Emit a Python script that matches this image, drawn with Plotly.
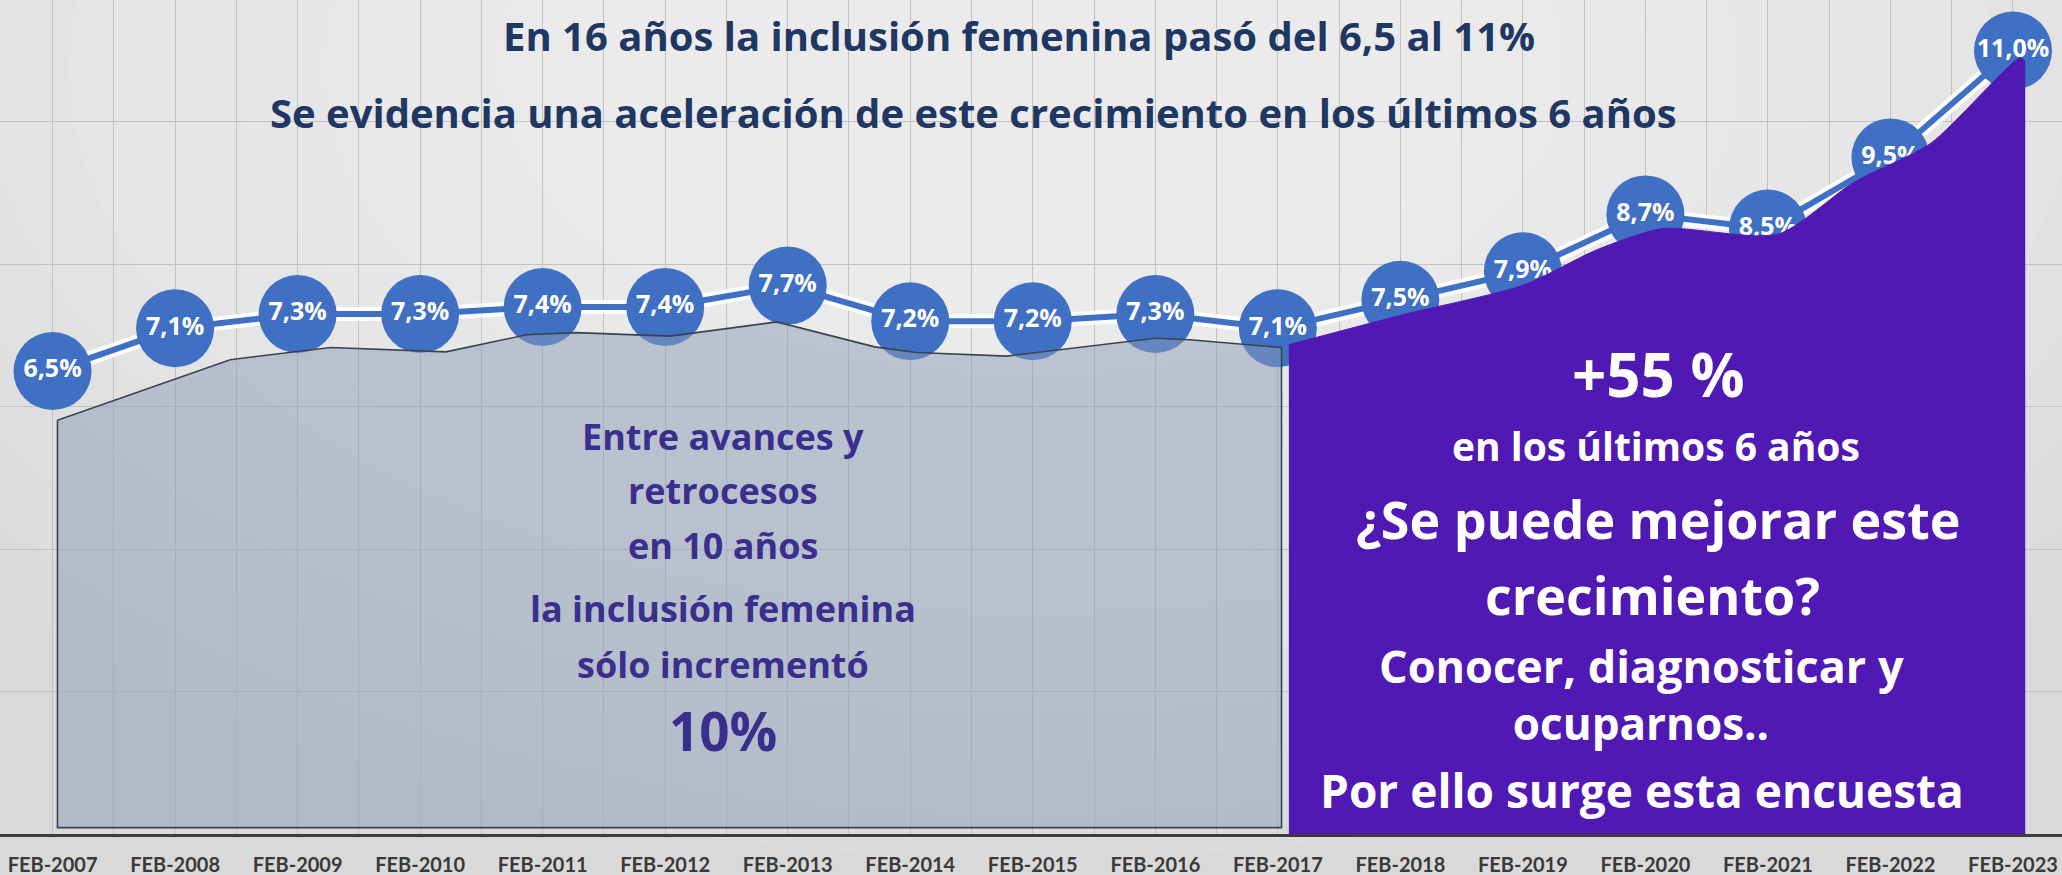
import plotly.graph_objects as go

# ---------------- data ----------------
years = ["FEB-2007", "FEB-2008", "FEB-2009", "FEB-2010", "FEB-2011", "FEB-2012",
         "FEB-2013", "FEB-2014", "FEB-2015", "FEB-2016", "FEB-2017", "FEB-2018",
         "FEB-2019", "FEB-2020", "FEB-2021", "FEB-2022", "FEB-2023"]
idx = list(range(len(years)))
values = [6.5, 7.1, 7.3, 7.3, 7.4, 7.4, 7.7, 7.2, 7.2, 7.3, 7.1, 7.5, 7.9, 8.7, 8.5, 9.5, 11.0]
labels = ["6,5%", "7,1%", "7,3%", "7,3%", "7,4%", "7,4%", "7,7%", "7,2%", "7,2%", "7,3%",
          "7,1%", "7,5%", "7,9%", "8,7%", "8,5%", "9,5%", "11,0%"]

# grey band (first 10 years) – outline
band_x = [0.04, 1.45, 2.27, 3.21, 3.87, 4.27, 5.04, 5.91, 6.71, 7.05, 7.79, 8.67, 9.0, 9.28, 10.03]
band_y = [5.81, 6.66, 6.83, 6.77, 7.01, 7.04, 6.99, 7.19, 6.84, 6.76, 6.71, 6.89, 6.96, 6.94, 6.83]
band_floor = 0.09

# purple band (last 6 years) – top edge
purple_x = [10.09, 11.02, 12.01, 12.6, 13.14, 14.08, 14.7, 15.33, 16.06, 16.1]
purple_y = [6.87, 7.29, 7.71, 8.2, 8.5, 8.42, 9.15, 9.7, 10.9, 10.85]

# ---------------- figure ----------------
W, H = 2062, 875
PLOT_H = 834
X0, X1 = -0.429, 16.40
Y0, Y1 = 0.0, 11.71

def paper(xp, yp):
    return xp / W, (PLOT_H - yp) / PLOT_H

def data_pos(xp, yp):
    return X0 + xp / W * (X1 - X0), Y1 - yp / PLOT_H * (Y1 - Y0)

FONT = "'Open Sans', Lato, sans-serif"
TICKFONT = "Lato, 'Open Sans', sans-serif"
NAVY = "#1f3763"
INDIGO = "#3b2f8e"
PURPLE = "#5019b4"
BLUE = "#3f70c4"

fig = go.Figure()

# white glow under the line
fig.add_trace(go.Scatter(x=idx, y=values, mode="lines",
                         line=dict(color="rgba(255,255,255,0.9)", width=14),
                         hoverinfo="skip", showlegend=False))
# line + markers + labels
fig.add_trace(go.Scatter(x=idx, y=values, mode="lines+markers+text",
                         line=dict(color=BLUE, width=6),
                         marker=dict(size=78, color=BLUE, line=dict(width=0)),
                         text=labels, textposition="middle center",
                         textfont=dict(family=FONT, size=25, color="white", weight="bold"),
                         showlegend=False))
# grey translucent band
gx = band_x + [band_x[-1], band_x[0], band_x[0]]
gy = band_y + [band_floor, band_floor, band_y[0]]
fig.add_trace(go.Scatter(x=gx, y=gy, mode="lines", fill="toself",
                         fillcolor="rgba(140,156,184,0.50)",
                         line=dict(color="#3a444e", width=1.6),
                         hoverinfo="skip", showlegend=False))
# purple band
fig.add_trace(go.Scatter(x=purple_x, y=purple_y, mode="lines", fill="tozeroy",
                         fillcolor=PURPLE,
                         line=dict(color=PURPLE, width=1, shape="spline", smoothing=0.7),
                         hoverinfo="skip", showlegend=False))

annotations = []

def add_text(text, xp, yp, size, color, weight="bold"):
    x, y = paper(xp, yp)
    annotations.append(dict(text=text, x=x, y=y, align="center",
                            xref="paper", yref="paper", xanchor="center", yanchor="middle",
                            showarrow=False,
                            font=dict(family=FONT, size=size, color=color, weight=weight)))

def add_trace_text(text, xp, yp, size, color):
    x, y = data_pos(xp, yp)
    fig.add_trace(go.Scatter(x=[x], y=[y], mode="text", text=[text],
                             textposition="middle center",
                             textfont=dict(family=FONT, size=size, color=color, weight="bold"),
                             hoverinfo="skip", showlegend=False))

add_text("En 16 años la inclusión femenina pasó del 6,5 al 11%", 1019, 36, 40, NAVY)
add_text("Se evidencia una aceleración de este crecimiento en los últimos 6 años", 973, 112, 40, NAVY)

grey_lines = [("Entre avances y", 436, 36), ("retrocesos", 490, 36), ("en 10 años", 546, 36),
              ("la inclusión femenina", 608, 36), ("sólo incrementó", 664, 36), ("10%", 730, 53)]
for t, yp, s in grey_lines:
    add_text(t, 723, yp, s, INDIGO)

purple_lines = [("+55 %", 1658, 374, 60), ("en los últimos 6 años", 1656, 445, 39),
                ("¿Se puede mejorar este", 1658, 518, 52), ("crecimiento?", 1652, 594, 52),
                ("Conocer, diagnosticar y", 1641, 665, 45),
                ("Por ello surge esta encuesta", 1642, 790, 46)]
for t, xp, yp, s in purple_lines:
    add_text(t, xp, yp, s, "white")
add_trace_text("ocuparnos..", 1641, 729, 44, "white")

# soft radial background (styling only)
shapes = []
n = 12
for i in range(n):
    f = 1 - i / n
    rx, ry = 0.35 + 1.0 * f, 0.5 + 1.4 * f
    shapes.append(dict(type="circle", xref="paper", yref="paper",
                       x0=0.5 - rx / 2, x1=0.5 + rx / 2, y0=0.92 - ry / 2, y1=0.92 + ry / 2,
                       fillcolor="white", opacity=0.07, line=dict(width=0), layer="below"))

fig.update_layout(
    width=W, height=H,
    margin=dict(l=0, r=0, t=0, b=H - PLOT_H, pad=0),
    paper_bgcolor="#d9d9d9",
    plot_bgcolor="rgba(0,0,0,0)",
    showlegend=False,
    annotations=annotations,
    shapes=shapes,
    xaxis=dict(range=[X0, X1], tickmode="array", tickvals=idx, ticktext=years,
               showgrid=True, gridcolor="#c2c2c2", gridwidth=1,
               minor=dict(dtick=0.5, tick0=0, showgrid=True, gridcolor="#c2c2c2", gridwidth=1),
               showline=True, linecolor="#3c3c3c", linewidth=3, ticks="",
               tickfont=dict(family=TICKFONT, size=20, color="#3a3a3a", weight="bold"),
               ticklabelstandoff=11, zeroline=False, fixedrange=True),
    yaxis=dict(range=[Y0, Y1], dtick=2, tick0=0, showgrid=True, gridcolor="#c2c2c2",
               gridwidth=1, showticklabels=False, zeroline=False, ticks="", fixedrange=True),
)

fig.write_html("out.html", config={"displayModeBar": False},
               post_script="document.body.style.margin='0px';document.body.style.overflow='hidden';")
